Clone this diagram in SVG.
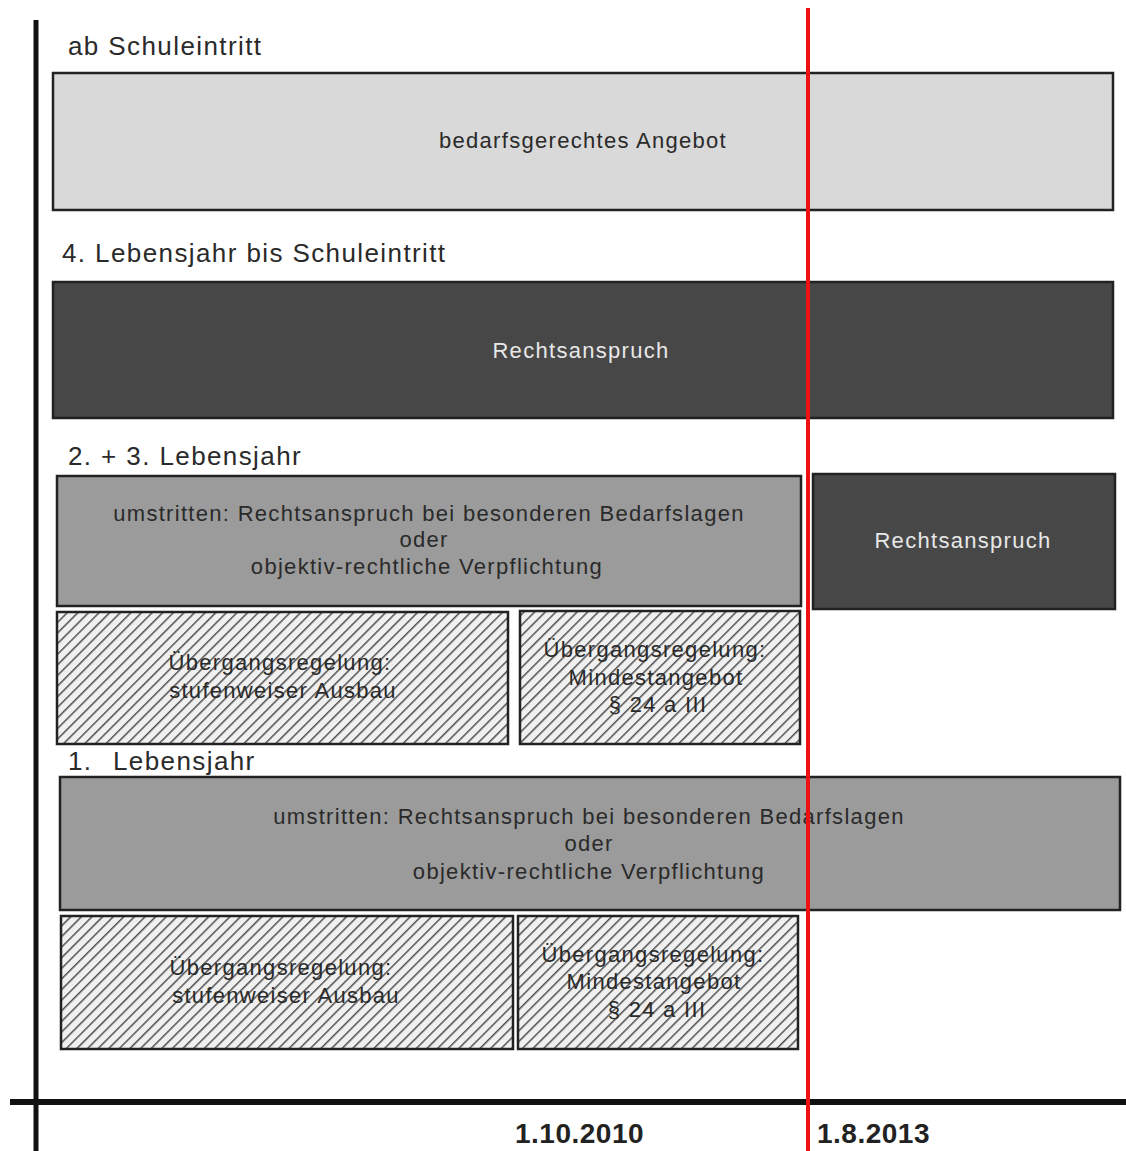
<svg xmlns="http://www.w3.org/2000/svg" width="1126" height="1151" viewBox="0 0 1126 1151">
<style>
.lbl{font-family:"Liberation Sans",Arial,sans-serif;font-size:26px;fill:#2a2a2a;letter-spacing:1.4px}
.t{font-family:"Liberation Sans",Arial,sans-serif;font-size:22px;text-anchor:middle;letter-spacing:1.3px}
.dk{fill:#e8e8e8}
.bk{fill:#2a2a2a}
.date{font-family:"Liberation Sans",Arial,sans-serif;font-size:28px;font-weight:bold;fill:#222;letter-spacing:0.5px}
.box{stroke:#222;stroke-width:2.5}
.light{fill:#d9d9d9}
.dark{fill:#474747}
.mid{fill:#9b9b9b}
.hatch{fill:url(#h)}
</style>
<defs>
<pattern id="h" width="7.5" height="7.5" patternUnits="userSpaceOnUse" patternTransform="rotate(45)">
<rect width="7.5" height="7.5" fill="#f0f0f0"/>
<line x1="0" y1="0" x2="0" y2="7.5" stroke="#505050" stroke-width="3"/>
</pattern>
</defs>
<rect width="1126" height="1151" fill="#fff"/>
<g id="axes">
<line x1="36" y1="20" x2="36" y2="1151" stroke="#111" stroke-width="5"/>
<line x1="10" y1="1102" x2="1126" y2="1102" stroke="#111" stroke-width="6"/>
<text class="date" x="515" y="1143">1.10.2010</text>
<text class="date" x="817" y="1143">1.8.2013</text>
</g>
<g id="labels">
<text class="lbl" x="68" y="55">ab Schuleintritt</text>
<text class="lbl" x="62" y="262">4. Lebensjahr bis Schuleintritt</text>
<text class="lbl" x="68" y="465">2. + 3. Lebensjahr</text>
<text class="lbl" x="68" y="770">1.<tspan x="113">Lebensjahr</tspan></text>
</g>
<g id="n1"><rect class="box light" x="53" y="73" width="1060" height="137"/><text class="t bk" x="583" y="148">bedarfsgerechtes Angebot</text></g>
<g id="n2"><rect class="box dark" x="53" y="282" width="1060" height="136"/><text class="t dk" x="581" y="358">Rechtsanspruch</text></g>
<g id="n3"><rect class="box mid" x="57" y="476" width="744" height="130"/>
<text class="t bk" x="429" y="521">umstritten: Rechtsanspruch bei besonderen Bedarfslagen</text>
<text class="t bk" x="424" y="547">oder</text>
<text class="t bk" x="427" y="574">objektiv-rechtliche Verpflichtung</text></g>
<g id="n4"><rect class="box dark" x="813" y="474" width="302" height="135"/><text class="t dk" x="963" y="548">Rechtsanspruch</text></g>
<g id="n5"><rect class="box hatch" x="57" y="612" width="451" height="132"/>
<text class="t bk" x="280" y="670">Übergangsregelung:</text>
<text class="t bk" x="283" y="698">stufenweiser Ausbau</text></g>
<g id="n6"><rect class="box hatch" x="520" y="611" width="280" height="133"/>
<text class="t bk" x="655" y="657">Übergangsregelung:</text>
<text class="t bk" x="656" y="685">Mindestangebot</text>
<text class="t bk" x="658" y="712">§ 24 a III</text></g>
<g id="n7"><rect class="box mid" x="60" y="777" width="1060" height="133"/>
<text class="t bk" x="589" y="824">umstritten: Rechtsanspruch bei besonderen Bedarfslagen</text>
<text class="t bk" x="589" y="851">oder</text>
<text class="t bk" x="589" y="879">objektiv-rechtliche Verpflichtung</text></g>
<g id="n8"><rect class="box hatch" x="61" y="916" width="452" height="133"/>
<text class="t bk" x="281" y="975">Übergangsregelung:</text>
<text class="t bk" x="286" y="1003">stufenweiser Ausbau</text></g>
<g id="n9"><rect class="box hatch" x="518" y="916" width="280" height="133"/>
<text class="t bk" x="653" y="962">Übergangsregelung:</text>
<text class="t bk" x="654" y="989">Mindestangebot</text>
<text class="t bk" x="657" y="1017">§ 24 a III</text></g>
<g id="connectors">
<line x1="808" y1="8" x2="808" y2="1151" stroke="#ee1111" stroke-width="4"/>
</g>
</svg>
